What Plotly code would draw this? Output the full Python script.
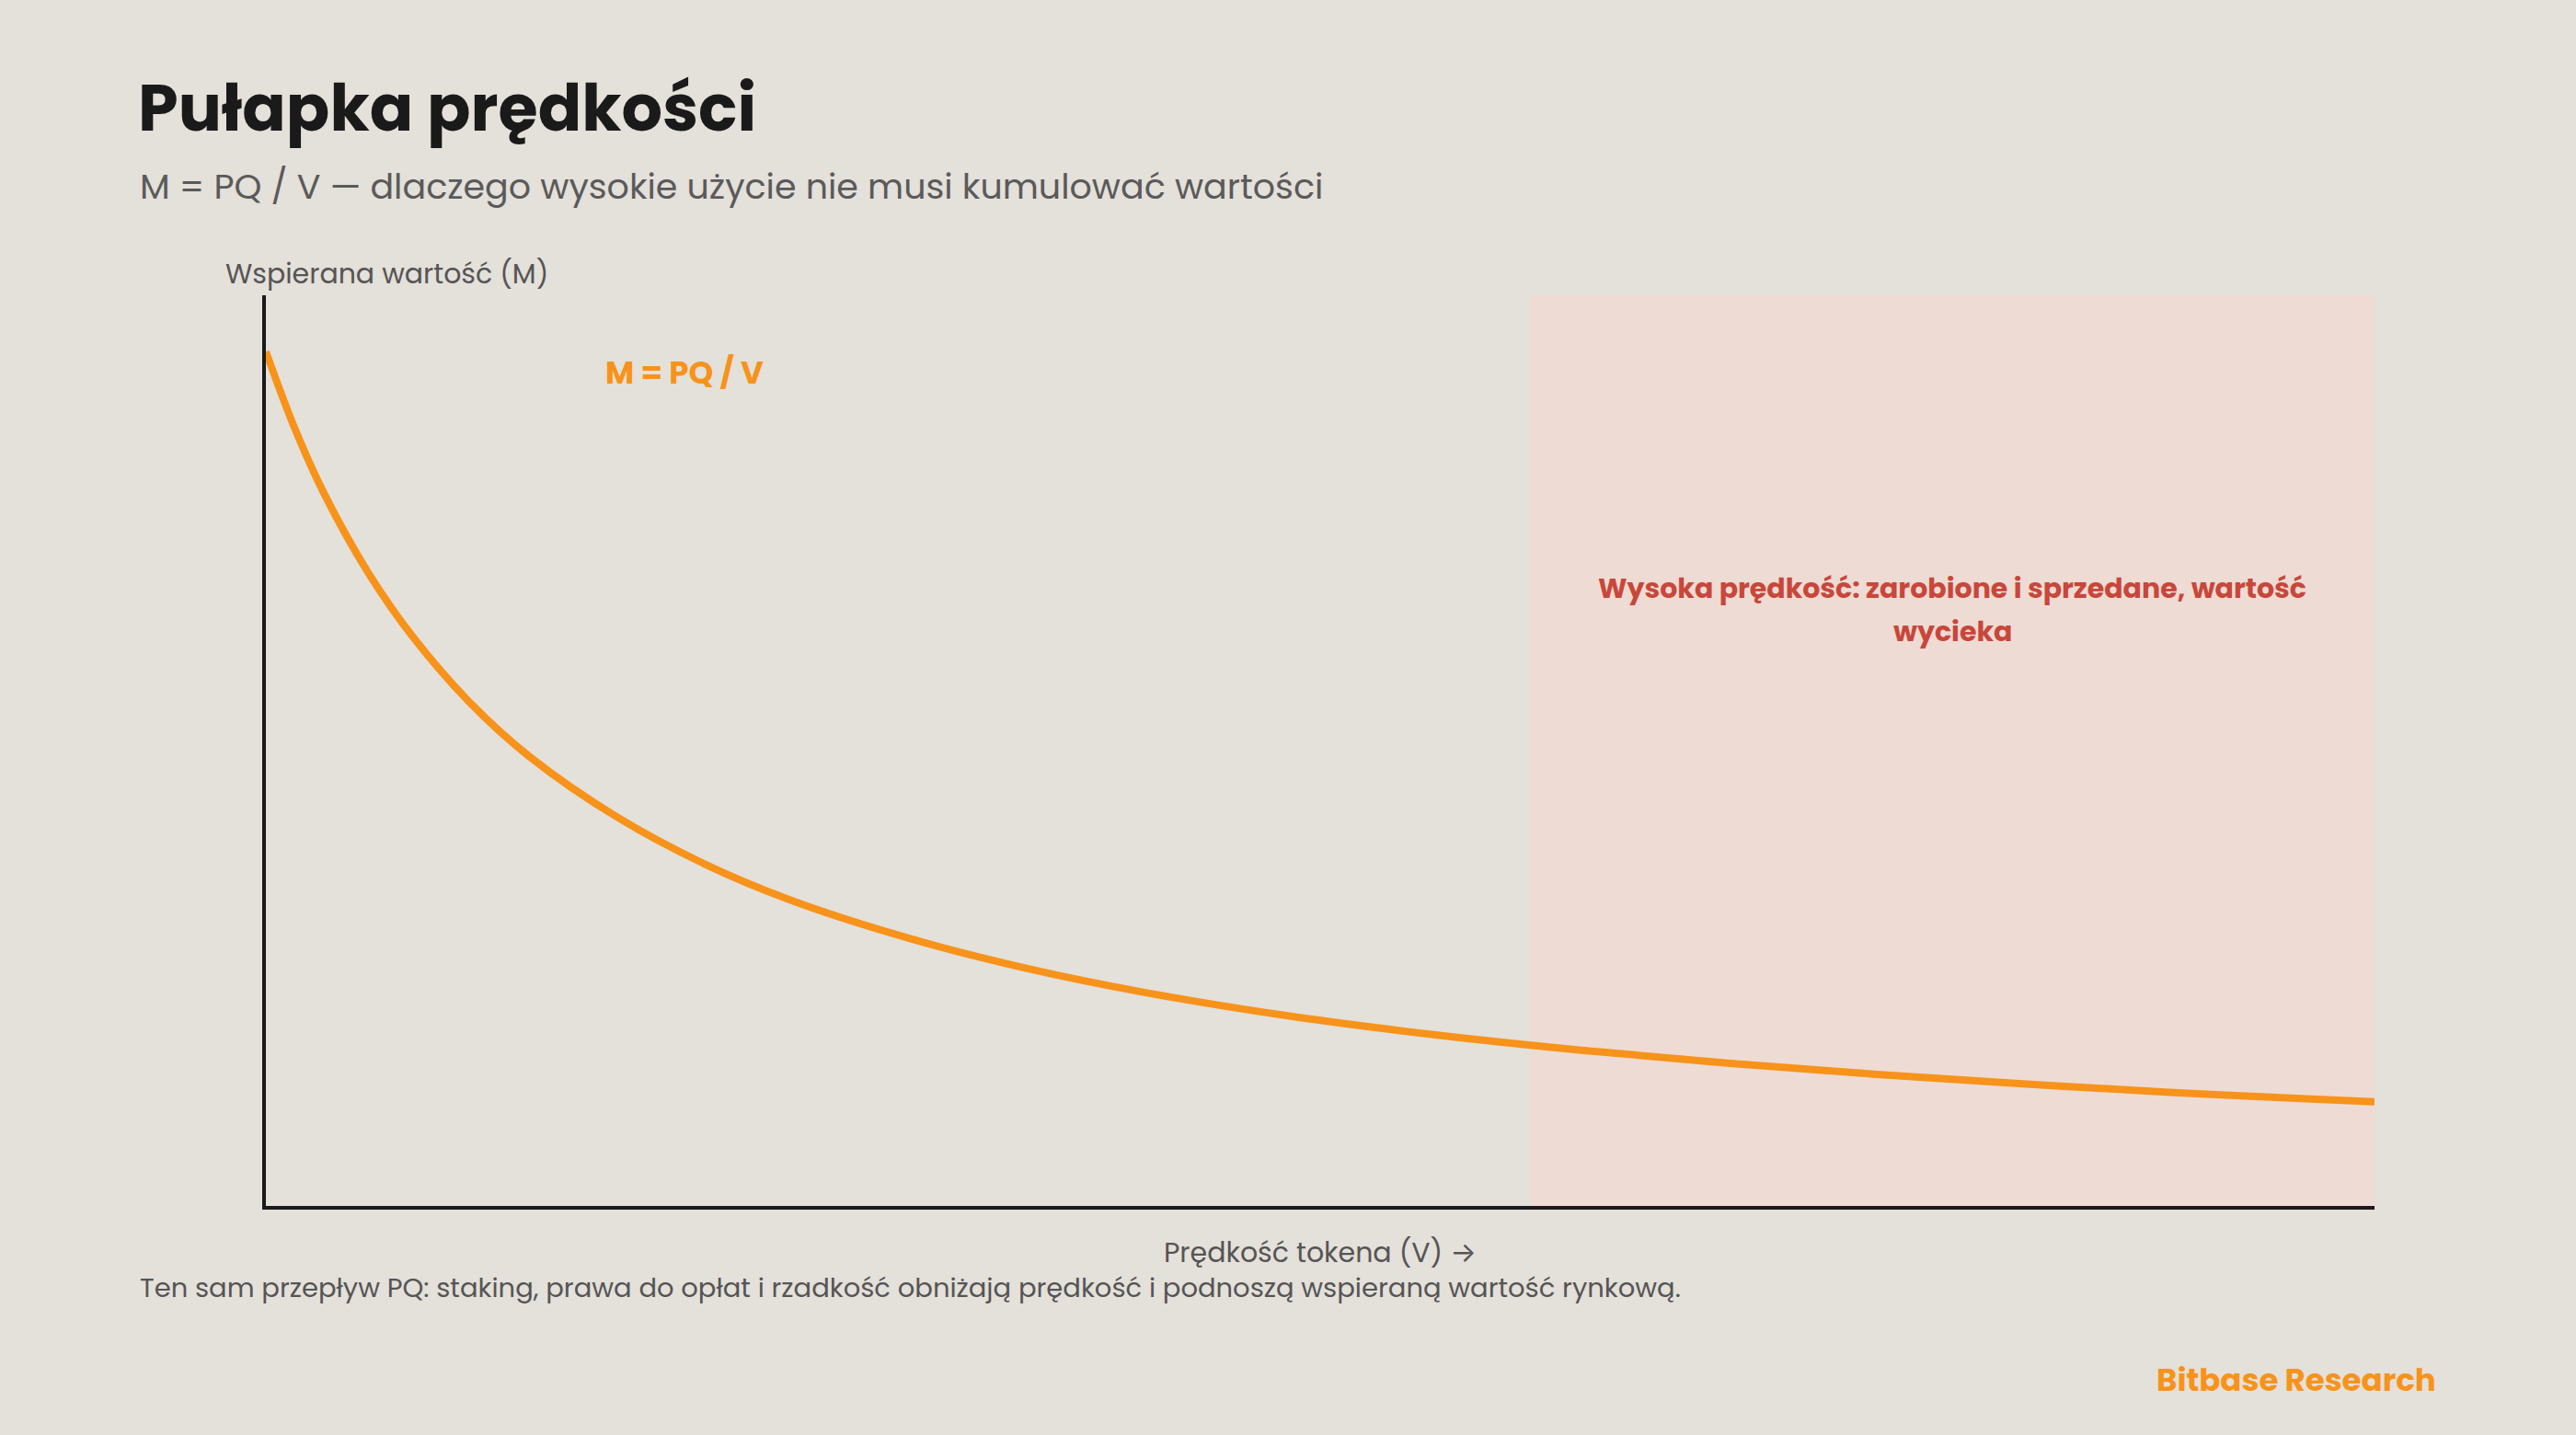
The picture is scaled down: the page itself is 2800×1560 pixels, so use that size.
import plotly.graph_objects as go

# Data: token velocity V and supported value M
velocity = [1.0, 1.1, 1.2, 1.35, 1.5, 1.7, 1.9, 2.2, 2.5, 2.8, 3.2, 3.6, 4.0, 4.5, 5.0, 5.5, 6.0, 6.5, 7.0, 7.5, 8.0, 8.2]
value_m = [100, 90.9, 83.3, 74.1, 66.7, 58.8, 52.6, 45.5, 40.0, 35.7, 31.3, 27.8, 25.0, 22.2, 20.0, 18.2, 16.7, 15.4, 14.3, 13.3, 12.5, 12.2]
high_zone = [5.32, 8.2]
x_range = [1.0, 8.2]
y_range = [0, 106.6]

W, H = 2800, 1560
L, R, T, B = 289, 2581, 321, 1311
BG = "#E4E0DA"
ORANGE = "#F7931A"
FONT = "Poppins, Inter, 'Noto Sans', sans-serif"

def px(x):
    return (x - L) / (R - L)

def py(y):
    return (B - y) / (B - T)

fig = go.Figure()
fig.add_trace(go.Scatter(x=velocity, y=value_m, mode="lines",
                         line=dict(color=ORANGE, width=8, shape="spline"),
                         hoverinfo="skip", showlegend=False))

fig.add_shape(type="rect", xref="x", yref="paper", x0=high_zone[0], x1=high_zone[1], y0=0, y1=1,
              fillcolor="#EEDBD4", line=dict(width=0), layer="below")

def ann(text, x, y, size, color, xanchor="left", bold=False):
    fig.add_annotation(text=f"<b>{text}</b>" if bold else text, xref="paper", yref="paper",
                       x=px(x), y=py(y), xanchor=xanchor, yanchor="middle", showarrow=False,
                       font=dict(family=FONT, size=size, color=color))

ann("Pułapka prędkości", 148, 117, 70, "#1A1A1A", bold=True)
ann("M = PQ / V — dlaczego wysokie użycie nie musi kumulować wartości", 150, 202, 38, "#5A5A5A")
ann("Wspierana wartość (M)", 243, 298, 30, "#555555")
ann("M = PQ / V", 656, 405, 34, ORANGE, bold=True)
ann("Wysoka prędkość: zarobione i sprzedane, wartość", 2122, 639, 30, "#C8473A", xanchor="center", bold=True)
ann("wycieka", 2122, 686, 30, "#C8473A", xanchor="center", bold=True)
ann("Prędkość tokena (V) →", 1435, 1361, 30, "#555555", xanchor="center")
ann("Ten sam przepływ PQ: staking, prawa do opłat i rzadkość obniżają prędkość i podnoszą wspieraną wartość rynkową.",
    150, 1400, 29, "#555555")
ann("Bitbase Research", 2650, 1500, 34, ORANGE, xanchor="right", bold=True)

fig.update_layout(
    width=W, height=H, paper_bgcolor=BG, plot_bgcolor=BG,
    margin=dict(l=L, r=W - R, t=T, b=H - B),
    showlegend=False,
    xaxis=dict(range=x_range, showgrid=False, zeroline=False, showticklabels=False, ticks="",
               showline=True, linecolor="#1A1A1A", linewidth=4),
    yaxis=dict(range=y_range, showgrid=False, zeroline=False, showticklabels=False, ticks="",
               showline=True, linecolor="#1A1A1A", linewidth=4),
    font=dict(family=FONT),
)

fig.write_html("out.html")
